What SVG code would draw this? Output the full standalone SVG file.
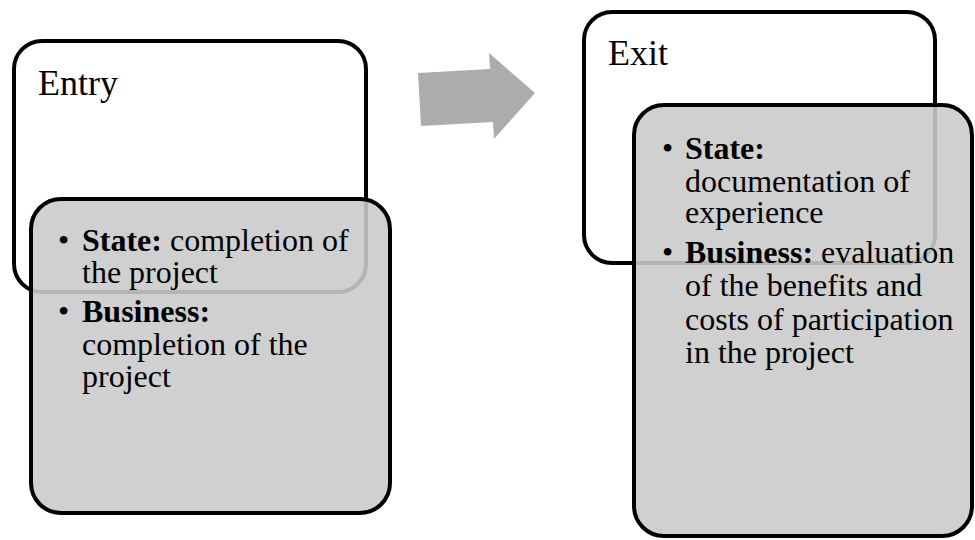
<svg xmlns="http://www.w3.org/2000/svg" width="975" height="540" viewBox="0 0 975 540">
<style>
.outer{fill:#ffffff;stroke:#000000;stroke-width:4}
.inner{fill:rgb(202,202,202);fill-opacity:0.89;stroke:#000000;stroke-width:4}
.title{font-family:"Liberation Serif","Times New Roman",serif;font-size:36px;fill:#000}
.body{font-family:"Liberation Serif","Times New Roman",serif;font-size:32px;fill:#000}
.b{font-weight:bold}
</style>
<rect width="975" height="540" fill="#ffffff"/>
<g id="entry">
<rect class="outer" x="14" y="41" width="352" height="251" rx="28" ry="28"/>
<text class="title" x="38" y="95">Entry</text>
</g>
<g id="entry-details">
<rect class="inner" x="31" y="199" width="359" height="314" rx="30" ry="30"/>
<text class="body" x="58" y="251">•</text>
<text class="body" x="82" y="251"><tspan class="b">State:</tspan> completion of</text>
<text class="body" x="82" y="283">the project</text>
<text class="body" x="58" y="322">•</text>
<text class="body" x="82" y="322"><tspan class="b">Business:</tspan></text>
<text class="body" x="82" y="355">completion of the</text>
<text class="body" x="82" y="387">project</text>
</g>
<g id="connectors">
<polygon points="418,73 490,69 489,53 535,93 494,139 493,122 421,126" fill="#acacac"/>
</g>
<g id="exit">
<rect class="outer" x="584" y="12" width="351" height="251" rx="28" ry="28"/>
<text class="title" x="608" y="65">Exit</text>
</g>
<g id="exit-details">
<rect class="inner" x="634" y="105" width="338" height="431" rx="30" ry="30"/>
<text class="body" x="662" y="159">•</text>
<text class="body" x="685" y="159"><tspan class="b">State:</tspan></text>
<text class="body" x="685" y="192">documentation of</text>
<text class="body" x="685" y="223">experience</text>
<text class="body" x="662" y="263">•</text>
<text class="body" x="685" y="263"><tspan class="b">Business:</tspan> evaluation</text>
<text class="body" x="685" y="296">of the benefits and</text>
<text class="body" x="685" y="330">costs of participation</text>
<text class="body" x="685" y="363">in the project</text>
</g>
</svg>
